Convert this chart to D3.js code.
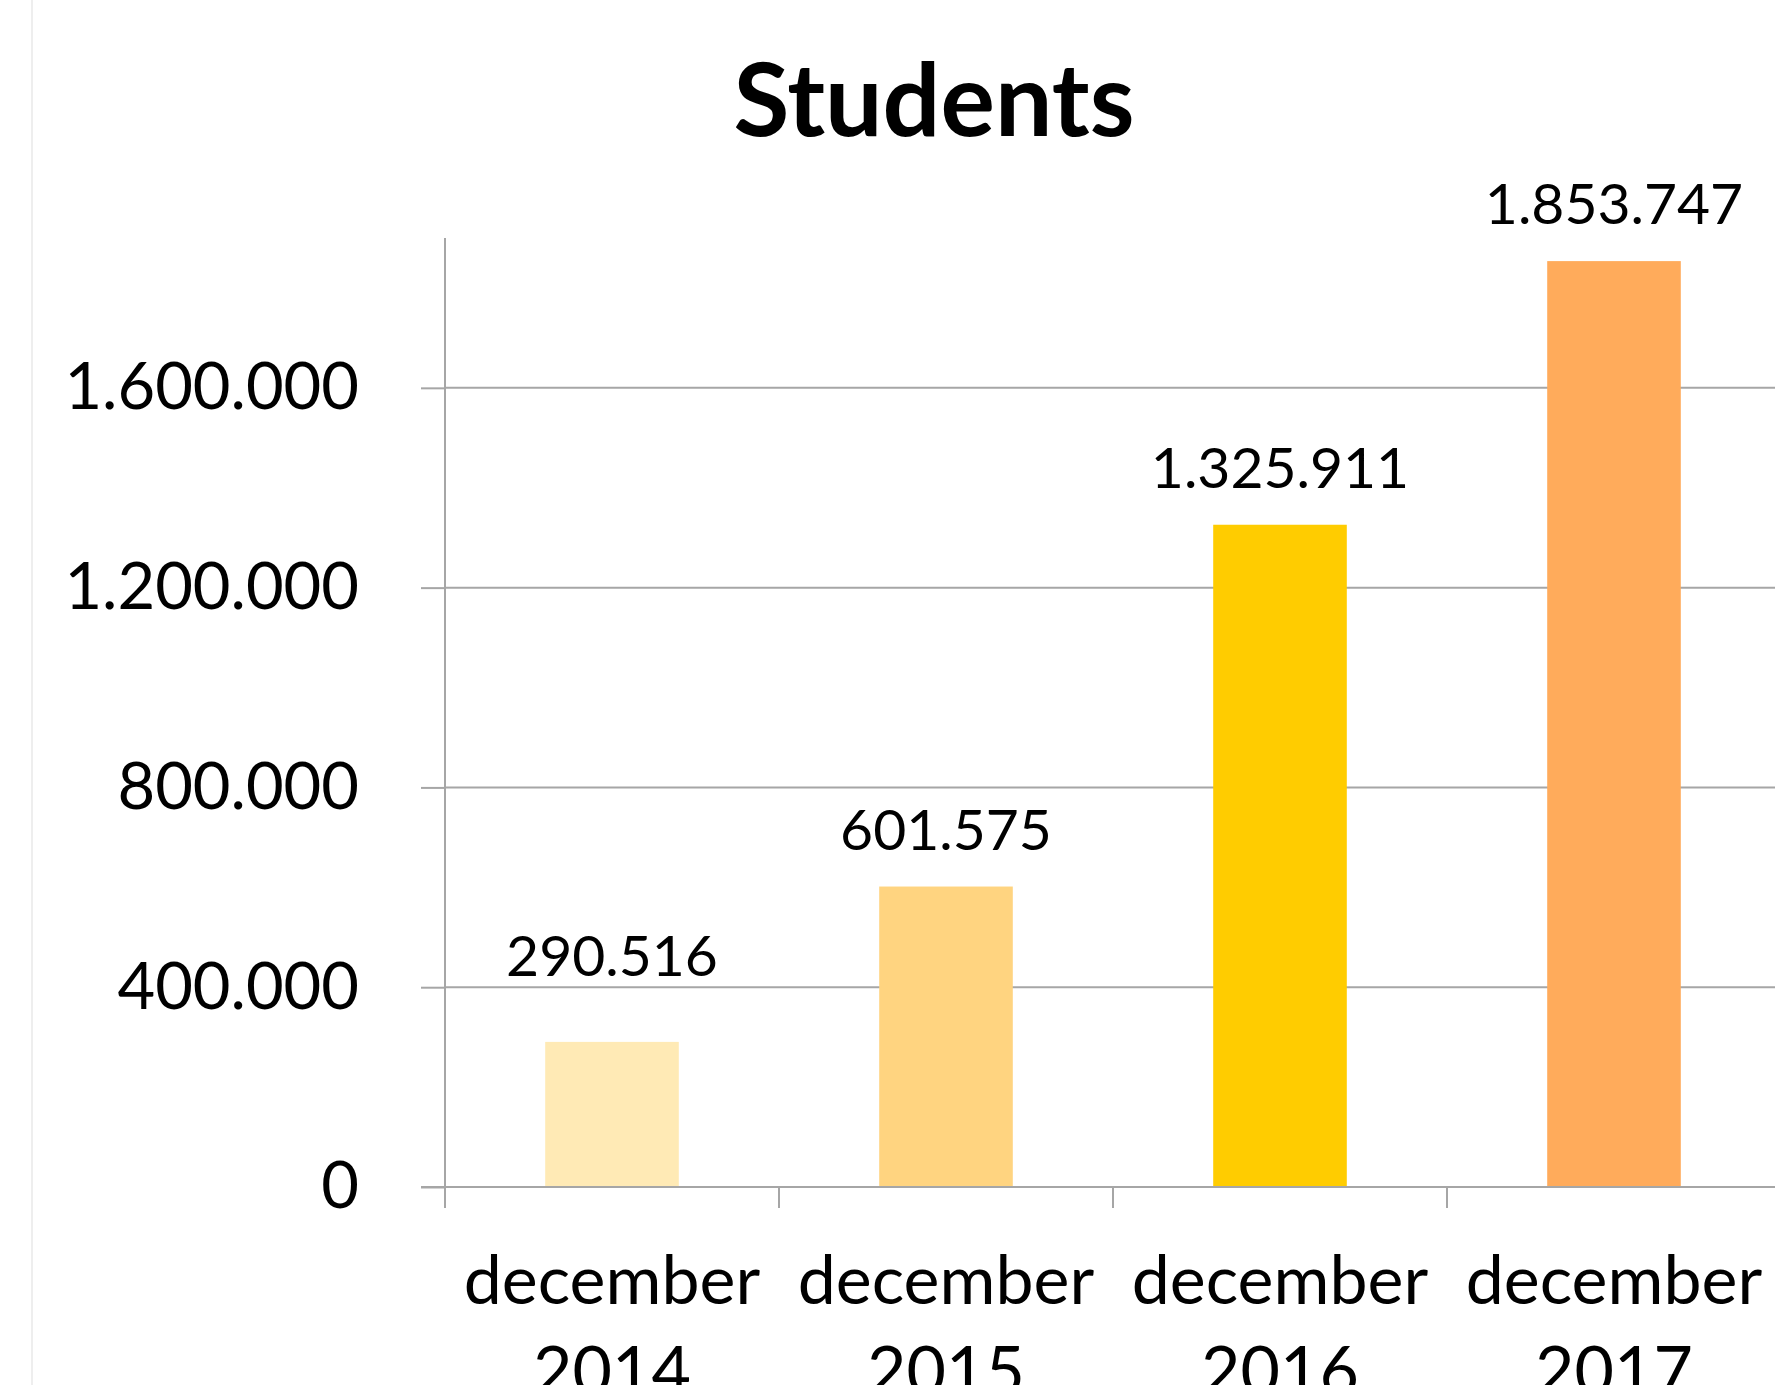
<!DOCTYPE html>
<html>
<head>
<meta charset="utf-8">
<script src="https://cdn.jsdelivr.net/npm/d3@7"></script>
<style>
  html, body { margin: 0; padding: 0; background: #ffffff; }
  svg { display: block; }
  text { font-family: Lato, "Open Sans", sans-serif; fill: #000; }
</style>
</head>
<body>
<svg id="chart" width="1775" height="1385"></svg>
<script>
// Students per year (December counts)
const categories = ["december 2014", "december 2015", "december 2016", "december 2017"];
const students = [290516, 601575, 1325911, 1853747];
const valueLabels = ["290.516", "601.575", "1.325.911", "1.853.747"];
const barColors = ["#FFEAB5", "#FFD480", "#FFCC00", "#FFAB5B"];
const yTicks = [0, 400000, 800000, 1200000, 1600000];
const yTickLabels = ["0", "400.000", "800.000", "1.200.000", "1.600.000"];
const chartTitle = "Students";

const W = 1775, H = 1385;
const plot = { left: 445, top: 238, bottom: 1187, right: 1781 };
const svg = d3.select("#chart");

// faint outer border of the chart area
svg.append("line")
  .attr("x1", 32).attr("x2", 32).attr("y1", 0).attr("y2", H)
  .attr("stroke", "#eeeeee").attr("stroke-width", 2);

const x = d3.scaleBand().domain(categories).range([plot.left, plot.right]).padding(0);
const y = d3.scaleLinear().domain([0, 1900000]).range([plot.bottom, plot.top]);

const gridColor = "#a6a6a6";

// horizontal gridlines
svg.append("g")
  .selectAll("line")
  .data(yTicks.filter(v => v > 0))
  .join("line")
  .attr("x1", plot.left).attr("x2", W)
  .attr("y1", d => y(d)).attr("y2", d => y(d))
  .attr("stroke", gridColor).attr("stroke-width", 2);

// y axis
const yAxis = d3.axisLeft(y)
  .tickValues(yTicks)
  .tickFormat((d, i) => yTickLabels[i])
  .tickSize(24)
  .tickPadding(62);
const gy = svg.append("g").attr("transform", `translate(${plot.left},0)`).call(yAxis);
gy.select(".domain").remove();
gy.selectAll(".tick line").attr("stroke", gridColor).attr("stroke-width", 2);
gy.selectAll(".tick text")
  .attr("font-family", "Lato, sans-serif")
  .attr("font-size", 65)
  .attr("fill", "#000");
svg.append("line")
  .attr("x1", plot.left).attr("x2", plot.left)
  .attr("y1", plot.top).attr("y2", plot.bottom + 21)
  .attr("stroke", gridColor).attr("stroke-width", 2);

// bars
const barW = x.bandwidth() * 0.4;
svg.append("g")
  .selectAll("rect")
  .data(students)
  .join("rect")
  .attr("x", (d, i) => x(categories[i]) + (x.bandwidth() - barW) / 2)
  .attr("y", d => y(d))
  .attr("width", barW)
  .attr("height", d => y(0) - y(d))
  .attr("fill", (d, i) => barColors[i]);

// x axis baseline with tick marks between categories
svg.append("line")
  .attr("x1", plot.left - 24).attr("x2", W)
  .attr("y1", y(0)).attr("y2", y(0))
  .attr("stroke", gridColor).attr("stroke-width", 2);
svg.append("g")
  .selectAll("line")
  .data(categories)
  .join("line")
  .attr("x1", d => x(d)).attr("x2", d => x(d))
  .attr("y1", y(0)).attr("y2", y(0) + 21)
  .attr("stroke", gridColor).attr("stroke-width", 2);

// category labels (two lines)
const catG = svg.append("g")
  .selectAll("text")
  .data(categories)
  .join("text")
  .attr("text-anchor", "middle")
  .attr("font-size", 68)
  .attr("x", d => x(d) + x.bandwidth() / 2)
  .attr("y", 1304);
catG.each(function (d) {
  const parts = d.split(" ");
  const t = d3.select(this);
  parts.forEach((p, k) => {
    t.append("tspan")
      .attr("x", x(d) + x.bandwidth() / 2)
      .attr("dy", k === 0 ? 0 : 91)
      .text(p);
  });
});

// value labels above the bars; the first one sits a little higher
svg.append("g")
  .selectAll("text")
  .data(students)
  .join("text")
  .attr("text-anchor", "middle")
  .attr("font-size", 57)
  .attr("x", (d, i) => x(categories[i]) + x.bandwidth() / 2)
  .attr("y", (d, i) => y(d) - (i === 0 ? 66 : 37))
  .text((d, i) => valueLabels[i]);

// title
svg.append("text")
  .attr("x", 934)
  .attr("y", 136)
  .attr("text-anchor", "middle")
  .attr("font-weight", "bold")
  .attr("font-size", 102)
  .text(chartTitle);
</script>
</body>
</html>
